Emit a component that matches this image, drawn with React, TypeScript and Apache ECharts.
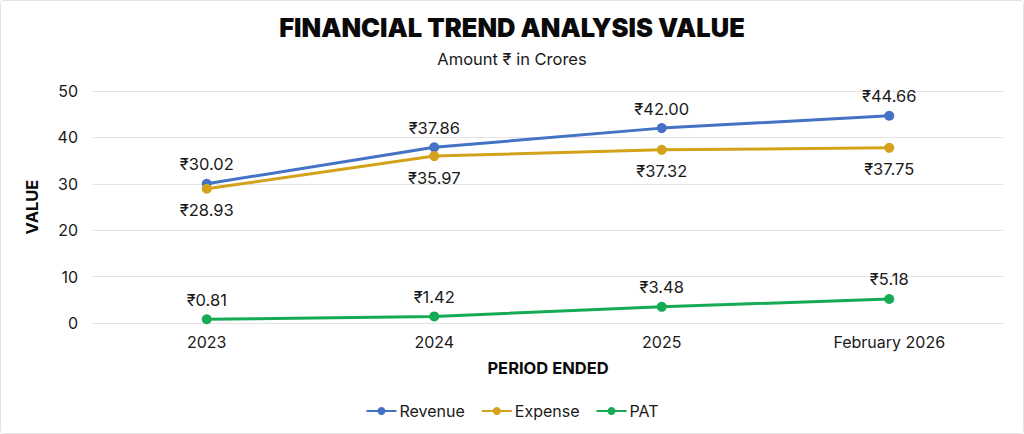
import React, { useEffect, useRef } from "react";
import * as echarts from "echarts";

const categories = ["2023", "2024", "2025", "February 2026"];
const revenue = [30.02, 37.86, 42.0, 44.66];
const expense = [28.93, 35.97, 37.32, 37.75];
const pat = [0.81, 1.42, 3.48, 5.18];
const yTicks = { min: 0, max: 50, interval: 10 };

const FONT = "Inter, 'Noto Sans', sans-serif";

export default function App() {
  const ref = useRef<HTMLDivElement>(null);
  useEffect(() => {
    if (!ref.current) return;
    const chart = echarts.init(ref.current, undefined, { renderer: "svg" });
    const fmt = (p: any) => "₹" + Number(p.value).toFixed(2);
    const mk = (name: string, data: number[], color: string, pos: string) => ({
      name,
      type: "line",
      data,
      symbol: "circle",
      symbolSize: 10,
      lineStyle: { width: 3, color },
      itemStyle: { color },
      label: {
        show: true,
        position: pos,
        distance: pos === "top" ? 6 : 8,
        formatter: fmt,
        color: "#1a1a1a",
        fontSize: 16.5,
        fontFamily: FONT,
      },
    });
    chart.setOption({
      animation: false,
      backgroundColor: "#fff",
      textStyle: { fontFamily: FONT },
      title: {
        text: "FINANCIAL TREND ANALYSIS VALUE",
        subtext: "Amount ₹ in Crores",
        left: "center",
        top: 8,
        itemGap: 10,
        textStyle: { fontSize: 25.5, fontWeight: 900, color: "#0a0a0a", fontFamily: FONT },
        subtextStyle: { fontSize: 16.5, color: "#1a1a1a", fontFamily: FONT },
      },
      legend: {
        bottom: 9,
        left: "center",
        itemWidth: 30,
        itemHeight: 10,
        itemGap: 16,
        textStyle: { fontSize: 16, color: "#1a1a1a", fontFamily: FONT, padding: [0, 0, 0, -2] },
        data: ["Revenue", "Expense", "PAT"],
      },
      grid: { left: 92, right: 20, top: 90, bottom: 110 },
      xAxis: {
        type: "category",
        data: categories,
        axisLine: { show: false },
        axisTick: { show: false },
        axisLabel: { fontSize: 16, color: "#1a1a1a", margin: 11 },
        name: "PERIOD ENDED",
        nameLocation: "middle",
        nameGap: 36,
        nameTextStyle: { fontSize: 16.5, fontWeight: "bold", color: "#0a0a0a" },
      },
      yAxis: {
        type: "value",
        min: yTicks.min,
        max: yTicks.max,
        interval: yTicks.interval,
        axisLabel: { fontSize: 16, color: "#1a1a1a", margin: 15 },
        splitLine: { lineStyle: { color: "#e3e3e3", width: 1 } },
        name: "VALUE",
        nameLocation: "middle",
        nameGap: 53,
        nameTextStyle: { fontSize: 16.5, fontWeight: "bold", color: "#0a0a0a" },
      },
      series: [
        mk("Revenue", revenue, "#4472C4", "top"),
        mk("Expense", expense, "#D4A21A", "bottom"),
        mk("PAT", pat, "#17AA55", "top"),
      ],
    });
    return () => chart.dispose();
  }, []);
  return (
    <div
      style={{
        position: "fixed",
        left: 0,
        top: 0,
        width: 1024,
        height: 434,
        boxSizing: "border-box",
        border: "1px solid #e2e2e2",
        borderRadius: 4,
        background: "#fff",
        overflow: "hidden",
      }}
    >
      <div ref={ref} style={{ width: 1022, height: 432 }} />
    </div>
  );
}
